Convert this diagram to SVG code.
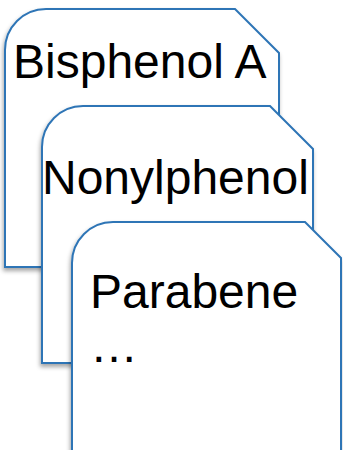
<svg xmlns="http://www.w3.org/2000/svg" width="343" height="450" viewBox="0 0 343 450">
<defs>
<filter id="sh" x="-10%" y="-10%" width="120%" height="120%">
<feDropShadow dx="-1" dy="3" stdDeviation="2" flood-color="#000" flood-opacity="0.35"/>
</filter>
<style>
.card{fill:#fff;stroke:#2E75B6;stroke-width:2;filter:url(#sh)}
.t{font-family:"Liberation Sans",Arial,sans-serif;font-size:48px;fill:#000}
</style>
</defs>
<rect width="343" height="450" fill="#fff"/>
<g id="card1">
<path class="card" d="M5,50 A41,41 0 0 1 46,9 L235,9 L279,53 L279,267 L5,267 Z"/>
<text class="t" x="13" y="78">Bisphenol A</text>
</g>
<g id="card2">
<path class="card" d="M42,147 A41,41 0 0 1 83,106 L270,106 L313,149 L313,363 L42,363 Z"/>
<text class="t" x="42" y="194">Nonylphenol</text>
</g>
<g id="card3">
<path class="card" d="M72,263 A41,41 0 0 1 113,222 L305,222 L341,258 L341,480 L72,480 Z"/>
<text class="t" x="90" y="308">Parabene</text>
<text class="t" x="90" y="362">…</text>
</g>
<g id="connectors"/>
</svg>
